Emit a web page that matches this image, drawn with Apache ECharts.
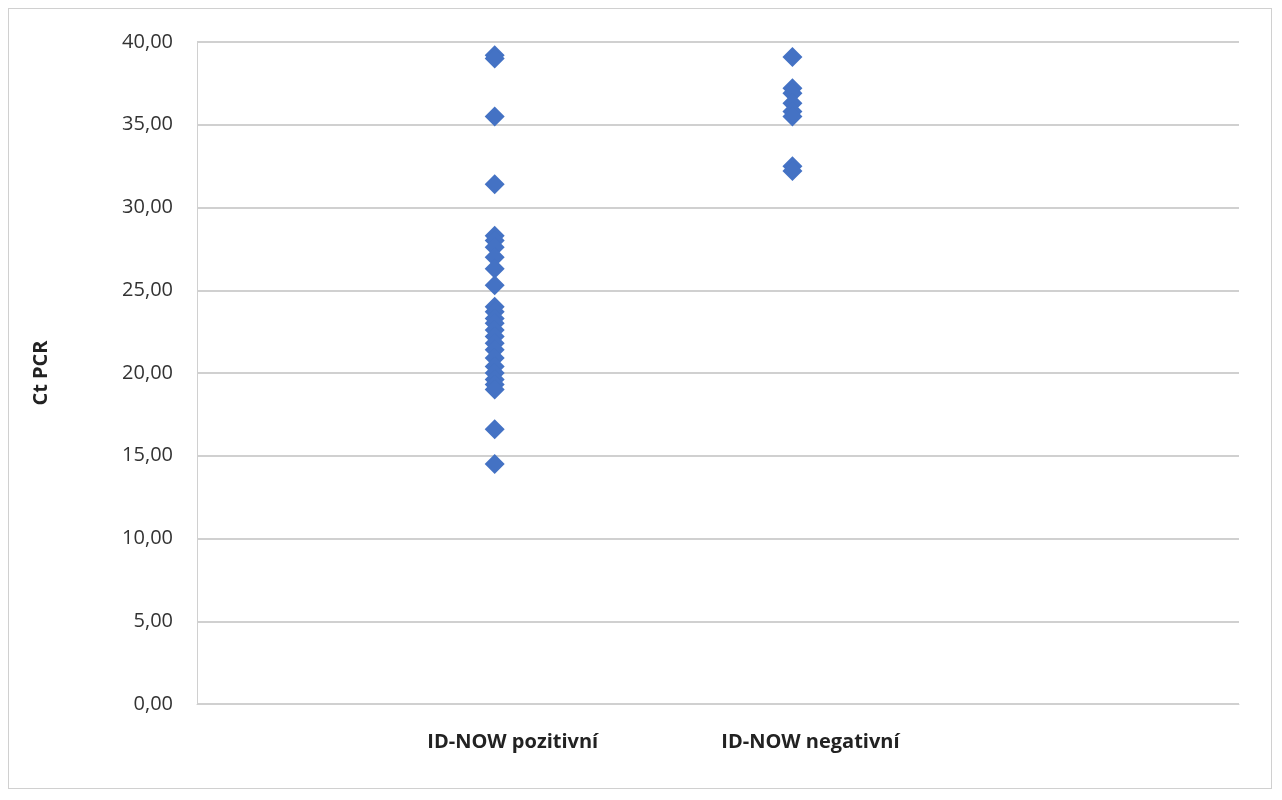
<!DOCTYPE html>
<html>
<head>
<meta charset="utf-8">
<script src="https://cdn.jsdelivr.net/npm/echarts@6/dist/echarts.min.js"></script>
<style>
body{margin:0;background:#fff;}
#main{position:absolute;left:8px;top:8px;width:1264px;height:781px;border:1px solid #d0d0d0;box-sizing:border-box;}
</style>
</head>
<body>
<div id="main"></div>
<script>
// kategorie na ose x (pozice 1 a 2)
var categories = ['ID-NOW pozitivní', 'ID-NOW negativní'];
var pozitivni = [39.2, 39.0, 35.5, 31.4, 28.3, 28.0, 27.6, 27.0, 26.3, 25.3, 24.0, 23.7, 23.3, 23.0, 22.6, 22.2, 21.8, 21.4, 20.9, 20.4, 20.0, 19.6, 19.3, 19.0, 16.6, 14.5];
var negativni = [39.1, 37.2, 36.9, 36.3, 35.8, 35.5, 32.5, 32.2];

var myChart = echarts.init(document.getElementById('main'));

function pts(vals, x) {
    return vals.map(function (v) { return [x, v]; });
}

var option = {
    animation: false,
    grid: {left: 188, right: 32, top: 33, bottom: 84},
    xAxis: {
        type: 'value', min: 0, max: 3.5, interval: 1,
        splitLine: {show: false},
        axisLine: {show: true, lineStyle: {color: '#d0d0d0'}},
        axisTick: {show: false},
        axisLabel: {
            color: '#222', fontSize: 20, fontWeight: 'bold', margin: 28,
            fontFamily: 'Open Sans', showMaxLabel: false, padding: [0, 0, 0, 36],
            formatter: function (v) { return categories[v - 1] || ''; }
        }
    },
    yAxis: {
        type: 'value', min: 0, max: 40, interval: 5,
        name: 'Ct PCR', nameLocation: 'middle', nameGap: 146, nameRotate: 90,
        nameTextStyle: {color: '#222', fontSize: 20, fontWeight: 'bold', fontFamily: 'Open Sans'},
        axisLine: {show: true, lineStyle: {color: '#d0d0d0'}},
        axisTick: {show: false},
        splitLine: {lineStyle: {color: '#d0d0d0', width: 2}},
        axisLabel: {
            color: '#333', fontSize: 20, margin: 24, fontFamily: 'Open Sans',
            formatter: function (v) { return v.toFixed(2).replace('.', ','); }
        }
    },
    series: [
        {type: 'scatter', symbol: 'diamond', symbolSize: 20, itemStyle: {color: '#4472C4', opacity: 1}, data: pts(pozitivni, 1)},
        {type: 'scatter', symbol: 'diamond', symbolSize: 20, itemStyle: {color: '#4472C4', opacity: 1}, data: pts(negativni, 2)}
    ]
};

myChart.setOption(option);
</script>
</body>
</html>
